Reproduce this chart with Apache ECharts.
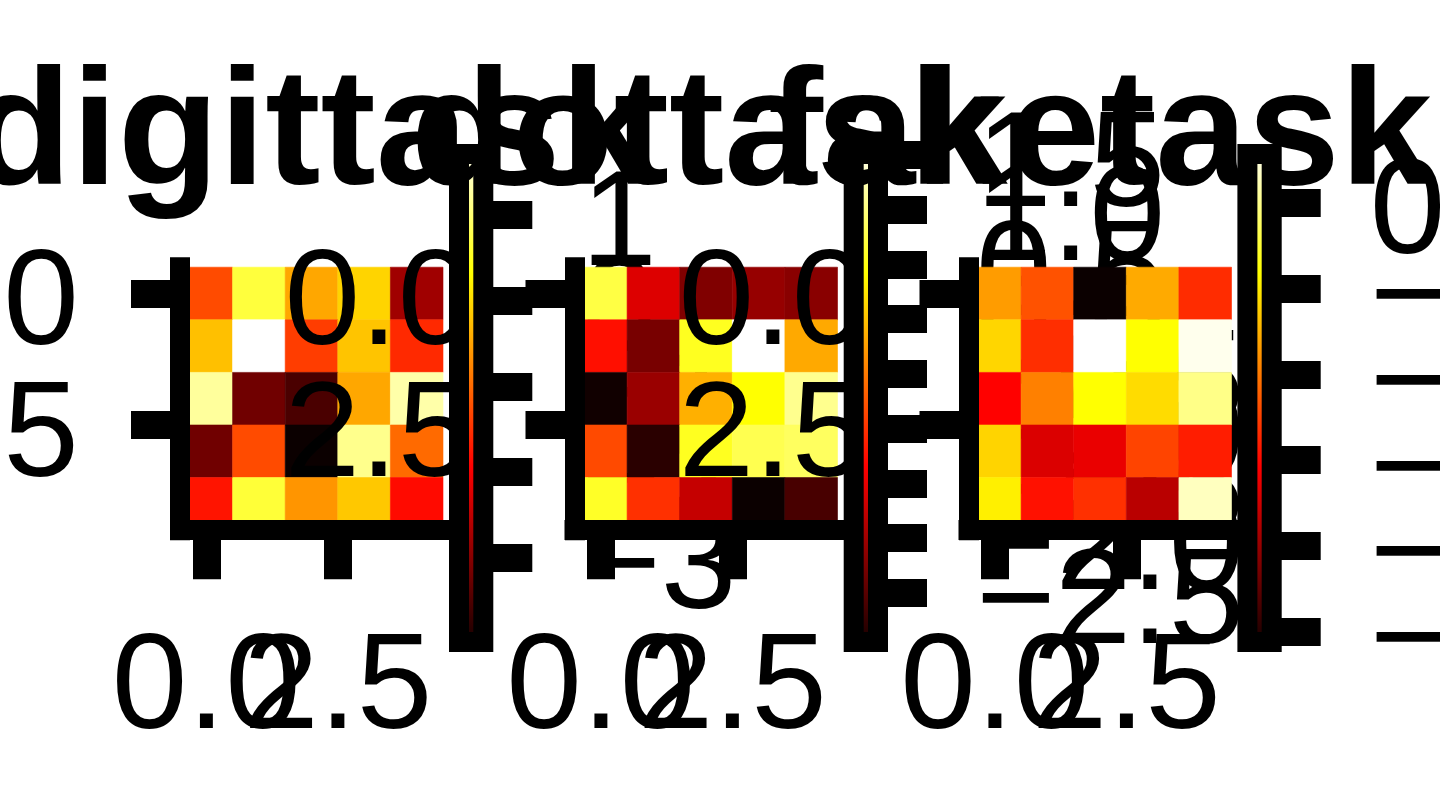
<!DOCTYPE html>
<html><head><meta charset="utf-8">
<script src="https://cdn.jsdelivr.net/npm/echarts@6/dist/echarts.min.js"></script>
<style>html,body{margin:0;padding:0;background:#fff}#c{width:1440px;height:790px}</style>
</head><body><div id="c"></div>
<script>
// ---- data ----
const panelTitles = ['digittask', 'dottask', 'faketask'];
const digittask = [
  [-1.27, 0.61, -0.48, -0.10, -2.71],
  [-0.27, 1.71, -1.39, -0.24, -1.56],
  [1.15, -3.12, -3.44, -0.48, 1.22],
  [-3.12, -1.27, -3.98, 1.06, -1.00],
  [-1.73, 0.58, -0.63, -0.20, -1.82]
];
const dottask = [
  [0.68, -1.55, -2.17, -2.02, -2.11],
  [-1.22, -2.22, 0.52, 1.51, -0.20],
  [-2.91, -1.99, -0.15, 0.38, 1.01],
  [-0.83, -2.74, 0.52, 0.73, 0.80],
  [0.55, -1.00, -1.71, -2.95, -2.54]
];
const faketask = [
  [-1.72, -2.34, -5.12, -1.60, -2.67],
  [-1.22, -2.65, 0.57, -0.87, 0.47],
  [-3.04, -1.96, -0.87, -1.17, -0.11],
  [-1.24, -3.35, -3.22, -2.46, -2.80],
  [-1.00, -2.90, -2.63, -3.64, 0.21]
];
const axisTickValues = [0, 2.5];
const axisTickLabels = ['0.0', '2.5'];
const cbTicksDigit = [1, 0, -1, -2, -3];
const cbTicksDot = [1.5, 1.0, 0.5, 0.0, -0.5, -1.0, -1.5, -2.0, -2.5];
const cbTicksFake = [0, -1, -2, -3, -4, -5];
const cbDecimals = [0, 1, 0];

// ---- layout / style ----
const FONT = 'Liberation Sans';
const panels = [digittask, dottask, faketask];
const cbTicks = [cbTicksDigit, cbTicksDot, cbTicksFake];
const panelLeft = [180, 574.5, 968.5];
const cbLeft = [459, 853.7, 1247.4];
const PANEL_TOP = 267.2, PANEL_SIZE = 263;
const CB_TOP = 154, CB_H = 488, CB_W = 24.3;

function hotRGB(t) {
  const r = Math.min(1, 0.0416 + 0.9584 * t / 0.365079);
  const g = Math.max(0, Math.min(1, (t - 0.365079) / 0.380953));
  const b = Math.max(0, Math.min(1, (t - 0.746032) / 0.253968));
  return 'rgb(' + Math.round(r * 255) + ',' + Math.round(g * 255) + ',' + Math.round(b * 255) + ')';
}
const hotStops = [];
for (let i = 0; i <= 256; i++) hotStops.push(hotRGB(i / 256));

function fmt(v, d) {
  const s = Math.abs(v).toFixed(d);
  return v < -1e-9 ? '\u2212' + s : s;
}
const labelStyle = { color: '#000', fontFamily: FONT, fontSize: 136, lineHeight: 136,
  showMinLabel: true, showMaxLabel: true, hideOverlap: false };
// vertical labels: a short line box hung from the tick puts the digits' centre on the tick
const vLabelStyle = Object.assign({}, labelStyle, { verticalAlign: 'top', lineHeight: 26 });
const tickFmt = function (v) { const k = axisTickValues.indexOf(v); return k >= 0 ? axisTickLabels[k] : v.toFixed(1); };

const grids = [], xAxes = [], yAxes = [], series = [], visualMaps = [], titles = [];

// one grid per tick so that every tick and label is kept
function addGrid(rect) {
  grids.push(Object.assign({ containLabel: false, outerBoundsMode: 'none', show: false }, rect));
  return grids.length - 1;
}

panels.forEach(function (mat, i) {
  const flat = [].concat.apply([], mat);
  const vmin = Math.min.apply(null, flat), vmax = Math.max.apply(null, flat);
  const cells = [];
  mat.forEach(function (row, r) { row.forEach(function (v, c) { cells.push([c, r, v]); }); });
  const zb = 4 * i;
  const panelRect = { left: panelLeft[i], top: PANEL_TOP, width: PANEL_SIZE, height: PANEL_SIZE };
  const cbRect = { left: cbLeft[i], top: CB_TOP, width: CB_W, height: CB_H };

  let heatAxis = -1;
  axisTickValues.forEach(function (tv, k) {
    const g = addGrid(panelRect);
    const lineShow = k === 0;
    const common = {
      gridIndex: g, type: 'value', min: -0.5, max: 4.5, z: zb + 2,
      axisLine: { show: lineShow, onZero: false, lineStyle: { color: '#000', width: 20, cap: 'square' } },
      axisTick: { show: true, length: 49, customValues: [tv], lineStyle: { color: '#000', width: 28 } },
      splitLine: { show: false }
    };
    xAxes.push(Object.assign({}, common, { position: 'bottom',
      axisLabel: Object.assign({ show: true, customValues: [tv], formatter: tickFmt, margin: 92 }, labelStyle) }));
    yAxes.push(Object.assign({}, common, { position: 'left', inverse: true,
      axisLabel: Object.assign({ show: true, customValues: [tv], formatter: tickFmt, margin: 101 }, vLabelStyle) }));
    if (k === 0) heatAxis = xAxes.length - 1;
  });

  let cbAxis = -1;
  cbTicks[i].forEach(function (tv, k) {
    const g = addGrid(cbRect);
    xAxes.push({ gridIndex: g, type: 'value', min: 0, max: 1, show: false });
    yAxes.push({ gridIndex: g, type: 'value', min: vmin, max: vmax, position: 'right', z: zb + 4,
      axisLine: { show: false, onZero: false },
      axisTick: { show: true, length: 49, customValues: [tv], lineStyle: { color: '#000', width: 28 } },
      axisLabel: Object.assign({ show: true, customValues: [tv], margin: 98,
        formatter: (function (d) { return function (v) { return fmt(v, d); }; })(cbDecimals[i]) }, vLabelStyle),
      splitLine: { show: false } });
    if (k === 0) cbAxis = xAxes.length - 1;
  });

  visualMaps.push({ type: 'continuous', show: false, seriesIndex: series.length, dimension: 2,
    min: vmin, max: vmax, inRange: { color: hotStops } });
  series.push({
    type: 'custom', coordinateSystem: 'cartesian2d', xAxisIndex: heatAxis, yAxisIndex: heatAxis, z: zb + 1,
    data: cells, encode: { x: 0, y: 1 }, silent: true, clip: false,
    renderItem: function (params, api) {
      const p0 = api.coord([api.value(0) - 0.5, api.value(1) - 0.5]);
      const p1 = api.coord([api.value(0) + 0.5, api.value(1) + 0.5]);
      const col = api.visual('color');
      return { type: 'rect',
        shape: { x: Math.min(p0[0], p1[0]), y: Math.min(p0[1], p1[1]), width: Math.abs(p1[0] - p0[0]), height: Math.abs(p1[1] - p0[1]) },
        style: { fill: col, stroke: col, lineWidth: 0.6 } };
    }
  });
  series.push({
    type: 'custom', coordinateSystem: 'cartesian2d', xAxisIndex: cbAxis, yAxisIndex: cbAxis, z: zb + 3,
    data: [[0, vmin, vmax]], encode: { x: 0, y: [1, 2] }, silent: true, clip: false,
    renderItem: function (params, api) {
      const p0 = api.coord([0, api.value(1)]);
      const p1 = api.coord([1, api.value(2)]);
      return { type: 'rect',
        shape: { x: p0[0], y: p1[1], width: p1[0] - p0[0], height: p0[1] - p1[1] },
        style: {
          fill: { type: 'linear', x: 0, y: 0, x2: 0, y2: 1, colorStops: [
            { offset: 0, color: hotRGB(1) }, { offset: 1 - 0.746032, color: hotRGB(0.746032) },
            { offset: 1 - 0.365079, color: hotRGB(0.365079) }, { offset: 1, color: hotRGB(0) }] },
          stroke: '#000', lineWidth: 20, lineJoin: 'miter'
        } };
    }
  });

  titles.push({ text: panelTitles[i], left: panelLeft[i] + PANEL_SIZE / 2, top: 55.5, textAlign: 'center', padding: 0, z: zb + 2,
    textStyle: { fontFamily: FONT, fontWeight: 'bold', fontSize: 166, lineHeight: 166, color: '#000' } });
});

const chart = echarts.init(document.getElementById('c'), null, { renderer: 'canvas' });
chart.setOption({
  animation: false,
  backgroundColor: '#fff',
  title: titles,
  grid: grids,
  xAxis: xAxes,
  yAxis: yAxes,
  visualMap: visualMaps,
  series: series
});
</script>
</body></html>
